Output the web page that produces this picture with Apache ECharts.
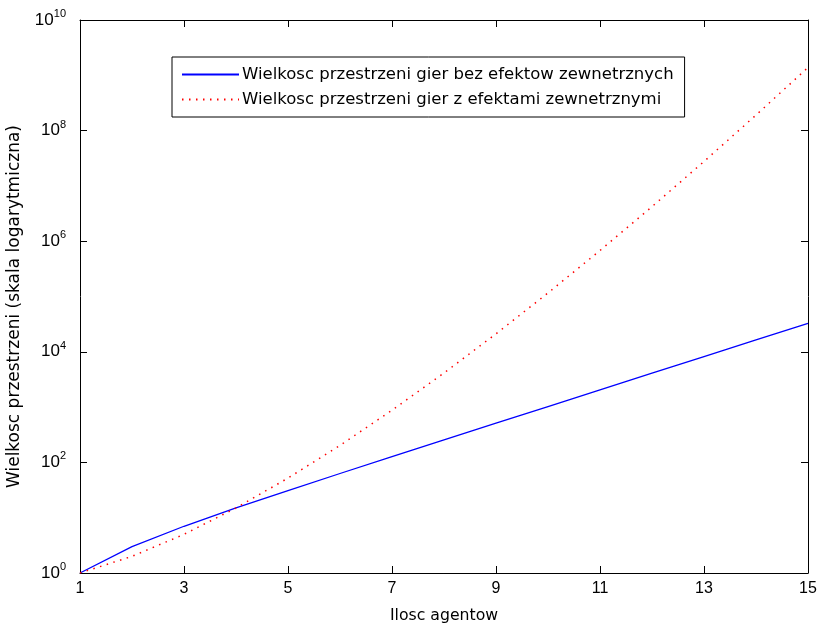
<!DOCTYPE html>
<html><head><meta charset="utf-8">
<script src="https://cdn.jsdelivr.net/npm/echarts@6/dist/echarts.min.js"></script>
<style>html,body{margin:0;padding:0;background:#fff}#c{width:818px;height:627px}</style>
</head><body><div id="c"></div>
<script>
var agents = [1,2,3,4,5,6,7,8,9,10,11,12,13,14,15];
var bezEfektow = [1,3,7,15,31,63,127,255,511,1023,2047,4095,8191,16383,32767];
var zEfektami = [1,2,5,15,52,203,877,4140,21147,115975,678570,4213597,27644437,190899322,1382958545];
var yTicks = [1,1e2,1e4,1e6,1e8,1e10];
var seriesNames = ['Wielkosc przestrzeni gier bez efektow zewnetrznych','Wielkosc przestrzeni gier z efektami zewnetrznymi'];

var font = 'Liberation Sans, Arial, sans-serif';
var wfont = 'DejaVu Sans, sans-serif';
var chart = echarts.init(document.getElementById('c'));
function pairs(ys){ return agents.map(function(x,i){ return [x, ys[i]]; }); }
var axisLine = {show:true, lineStyle:{color:'#000', width:1}};
var tickIn = {show:true, inside:true, length:7, lineStyle:{color:'#000'}};
var yTickIn = {show:true, inside:true, length:7, lineStyle:{color:'#000'}, customValues:yTicks};
chart.setOption({
  animation:false,
  backgroundColor:'#fff',
  grid:{left:80, top:20, width:728, height:553, show:false, containLabel:false, outerBoundsMode:'none'},
  legend:{
    orient:'vertical', left:172, top:57,
    padding:[9,11,9,9], itemGap:8, itemWidth:57, itemHeight:17,
    borderColor:'#000', borderWidth:1, backgroundColor:'#fff',
    itemStyle:{opacity:0},
    textStyle:{fontFamily:wfont, fontSize:16.5, color:'#000', padding:[0,0,0,-2]},
    data:seriesNames
  },
  xAxis:[{
    type:'value', min:1, max:15, interval:2, position:'bottom',
    name:'Ilosc agentow', nameLocation:'middle', nameGap:35,
    nameTextStyle:{fontFamily:wfont, fontSize:15.7, color:'#000'},
    axisLine:axisLine, axisTick:tickIn, splitLine:{show:false},
    axisLabel:{fontFamily:font, fontSize:16, color:'#000', margin:8}
  },{
    type:'value', min:1, max:15, interval:2, position:'top',
    axisLine:axisLine, axisTick:tickIn, splitLine:{show:false}, axisLabel:{show:false}
  }],
  yAxis:[{
    type:'log', logBase:10, min:1, max:1e10, position:'left',
    name:'Wielkosc przestrzeni (skala logarytmiczna)', nameLocation:'middle', nameGap:57,
    nameTextStyle:{fontFamily:wfont, fontSize:17, color:'#000', padding:[0,20,0,0]},
    axisLine:axisLine, axisTick:yTickIn, splitLine:{show:false}, minorTick:{show:false},
    axisLabel:{
      margin:14, color:'#000', customValues:yTicks,
      formatter:function(v){ return '{b|10}{s|' + Math.round(Math.log10(v)) + '}'; },
      rich:{b:{fontFamily:font, fontSize:17, color:'#000'}, s:{fontFamily:font, fontSize:11, color:'#000', verticalAlign:'top', padding:[0,0,12,0]}}
    }
  },{
    type:'log', logBase:10, min:1, max:1e10, position:'right',
    axisLine:axisLine, axisTick:yTickIn, splitLine:{show:false}, axisLabel:{show:false}
  }],
  series:[{
    name:seriesNames[0], type:'line', xAxisIndex:0, yAxisIndex:0,
    data:pairs(bezEfektow), symbol:'none', smooth:false,
    lineStyle:{color:'#0000ff', width:1.3, type:'solid'}, itemStyle:{color:'#0000ff'}
  },{
    name:seriesNames[1], type:'line', xAxisIndex:0, yAxisIndex:0,
    data:pairs(zEfektami), symbol:'none', smooth:false,
    lineStyle:{color:'#ff0000', width:1.5, type:[1.5,5.5]}, itemStyle:{color:'#ff0000'}
  }]
});
</script></body></html>
